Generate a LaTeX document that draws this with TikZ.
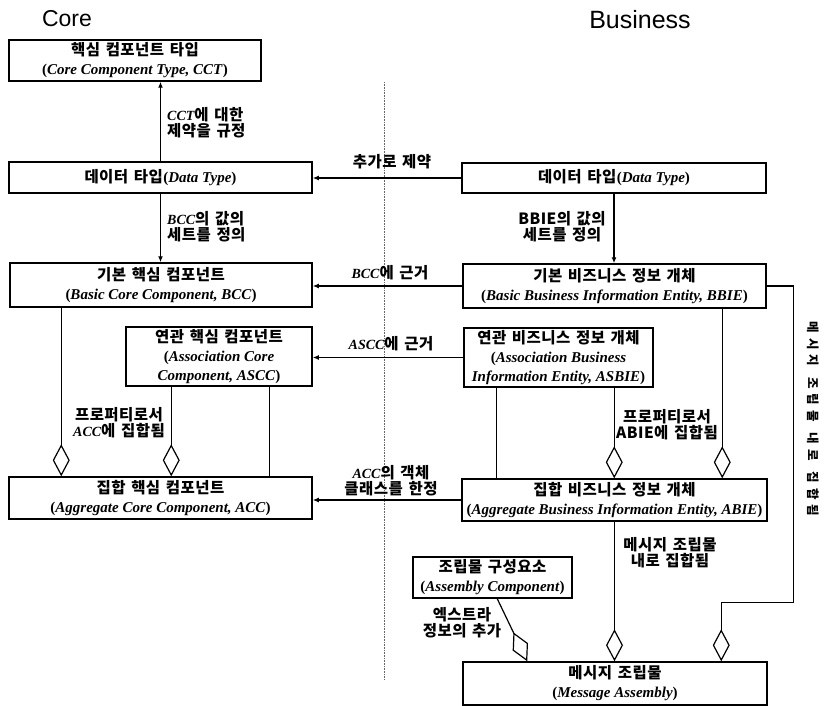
\documentclass[tikz,border=0pt]{standalone}
\usepackage{fontspec}
\setmainfont{Liberation Serif}
\setsansfont{Liberation Sans}
\newfontfamily\krfont{Noto Sans CJK KR}[LetterSpace=3, WordSpace=1.4]
\usetikzlibrary{arrows.meta,calc}
\newcommand\kor[1]{{\krfont\bfseries\fontsize{15.5}{17}\selectfont #1}}
\newcommand\eng[1]{{\bfseries\itshape #1}}
\newcommand\pe[1]{\textbf{(\textit{#1})}}
\begin{document}
\begin{tikzpicture}[x=1pt,y=-1pt,
  box/.style={draw, line width=1.5pt, fill=white, inner sep=0pt, align=center, font=\fontsize{15}{19}\selectfont},
  lbl/.style={align=center, inner sep=0pt, font=\fontsize{14}{16}\selectfont},
  arr/.style={line width=1.2pt, -{Latex[length=6pt,width=5pt]}},
  agg/.style={line width=1.2pt, -{Diamond[open,length=32pt,width=17pt]}},
  assoc/.style={line width=1.2pt},
  sep/.style={densely dotted, line width=0.6pt, black!60},
  title/.style={font=\sffamily\fontsize{23}{23}\selectfont, inner sep=0pt}]
\useasboundingbox (0,0) rectangle (824,706);

% titles
\node[title] (tcore) at (67,19) {Core};
\node[title, font=\sffamily\fontsize{25}{25}\selectfont] (tbus) at (640,20) {Business};

% separator
\coordinate (septop) at (384,82);
\coordinate (sepbot) at (384,680);
\draw[sep] (septop) -- (sepbot);

% core boxes
\node[box, minimum width=252pt, minimum height=41pt] (cct) at (135,60.5) {\kor{핵심 컴포넌트 타입}\\\pe{Core Component Type, CCT}};
\node[box, minimum width=303pt, minimum height=31pt] (dtc) at (160.5,177.5) {\kor{데이터 타입}\pe{Data Type}};
\node[box, minimum width=302pt, minimum height=44pt] (bcc) at (161,285) {\kor{기본 핵심 컴포넌트}\\\pe{Basic Core Component, BCC}};
\node[box, minimum width=186pt, minimum height=59pt] (ascc) at (219,356.5) {\kor{연관 핵심 컴포넌트}\\\textbf{(\textit{Association Core}}\\\textbf{\textit{Component, ASCC})}};
\node[box, minimum width=303pt, minimum height=42pt] (acc) at (160.5,498) {\kor{집합 핵심 컴포넌트}\\\pe{Aggregate Core Component, ACC}};

% business boxes
\node[box, minimum width=304pt, minimum height=30pt] (dtb) at (614,178) {\kor{데이터 타입}\pe{Data Type}};
\node[box, minimum width=303pt, minimum height=44pt] (bbie) at (614.5,286) {\kor{기본 비즈니스 정보 개체}\\\pe{Basic Business Information Entity, BBIE}};
\node[box, minimum width=189pt, minimum height=59pt] (asbie) at (558.5,357.5) {\kor{연관 비즈니스 정보 개체}\\\textbf{(\textit{Association Business}}\\\textbf{\textit{Information Entity, ASBIE})}};
\node[box, minimum width=305pt, minimum height=42pt] (abie) at (614.5,500) {\kor{집합 비즈니스 정보 개체}\\\pe{Aggregate Business Information Entity, ABIE}};
\node[box, minimum width=159pt, minimum height=41pt] (ac) at (492.5,577.5) {\kor{조립물 구성요소}\\\pe{Assembly Component}};
\node[box, minimum width=304pt, minimum height=43pt] (ma) at (615,683.5) {\kor{메시지 조립물}\\\pe{Message Assembly}};

% vertical arrows
\draw[arr] (dtc.north) -- (dtc.north |- cct.south);
\draw[arr] (dtc.south) -- (dtc.south |- bcc.north);
\draw[arr] (dtb.south) -- (dtb.south |- bbie.north);

% horizontal arrows
\draw[arr] (dtb.west) -- (dtb.west -| dtc.east);
\draw[arr] (bbie.west) -- (bbie.west -| bcc.east);
\draw[arr] (asbie.west) -- (asbie.west -| ascc.east);
\draw[arr] (abie.west) -- (abie.west -| acc.east);

% aggregation (core)
\coordinate (b1) at ($(bcc.south west)+(52,0)$);
\coordinate (a1) at ($(ascc.south west)+(46,0)$);
\coordinate (a2) at ($(ascc.south west)+(144,0)$);
\draw[agg] (b1) -- (b1 |- acc.north);
\draw[agg] (a1) -- (a1 |- acc.north);
\draw[assoc] (a2) -- (a2 |- acc.north);

% aggregation (business)
\coordinate (s1) at ($(asbie.south west)+(33,0)$);
\coordinate (s2) at ($(asbie.south west)+(151,0)$);
\coordinate (bb1) at ($(bbie.south west)+(260,0)$);
\draw[assoc] (s1) -- (s1 |- abie.north);
\draw[agg] (s2) -- (s2 |- abie.north);
\draw[agg] (bb1) -- (bb1 |- abie.north);

% message assembly
\draw[agg] (abie.south) -- (abie.south |- ma.north);
\coordinate (r1) at ($(bbie.east)+(27,0)$);
\coordinate (r3) at ($(ma.north west)+(259,-59)$);
\draw[agg] (bbie.east) -- (r1) |- (r3) -- (r3 |- ma.north);
\coordinate (c1) at ($(ac.south west)+(85,0)$);
\coordinate (c2) at ($(ma.north west)+(65,0)$);
\draw[agg] (c1) -- (c2);

% labels
\node[lbl, anchor=west, align=left] (l1) at (167,123) {\eng{CCT}\kor{에 대한}\\\kor{제약을 규정}};
\node[lbl, anchor=west, align=left] (l2) at (167,227) {\eng{BCC}\kor{의 값의}\\\kor{세트를 정의}};
\node[lbl] (l3) at (392,162) {\kor{추가로 제약}};
\node[lbl] (l4) at (562,227) {\kor{BBIE의 값의}\\\kor{세트를 정의}};
\node[lbl] (l5) at (390,273) {\eng{BCC}\kor{에 근거}};
\node[lbl] (l6) at (391,344) {\eng{ASCC}\kor{에 근거}};
\node[lbl] (l7) at (119,423) {\kor{프로퍼티로서}\\\eng{ACC}\kor{에 집합됨}};
\node[lbl] (l8) at (391,481) {\eng{ACC}\kor{의 객체}\\\kor{클래스를 한정}};
\node[lbl] (l9) at (667,425) {\kor{프로퍼티로서}\\\kor{ABIE에 집합됨}};
\node[lbl] (l10) at (670,553) {\kor{메시지 조립물}\\\kor{내로 집합됨}};
\node[lbl] (l11) at (462,623) {\kor{엑스트라}\\\kor{정보의 추가}};
\node[lbl, rotate=-90] (l12) at (813,419) {{\krfont\bfseries\fontsize{12.5}{14}\selectfont\addfontfeature{LetterSpace=40}메시지 조립물 내로 집합됨}};
\end{tikzpicture}
\end{document}
